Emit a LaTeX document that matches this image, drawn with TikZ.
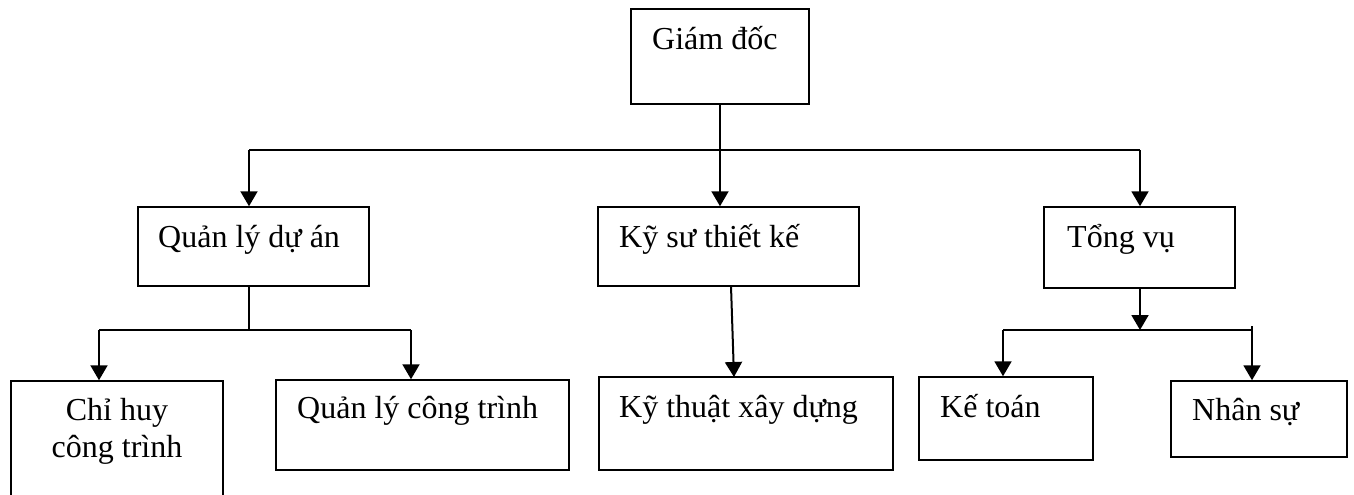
\documentclass[tikz,border=0pt]{standalone}
\usepackage{fontspec}
\setmainfont{Liberation Serif}
\usetikzlibrary{arrows.meta}
\tikzset{
  box/.style={draw=black, line width=1.5pt, rectangle, inner sep=0pt},
  lbl/.style={anchor=base west, inner sep=0pt, font=\fontsize{32}{37}\selectfont},
  conn/.style={line width=2pt, draw=black},
  arr/.style={conn, -{Triangle[width=17pt,length=15pt]}}
}
\begin{document}
\begin{tikzpicture}[x=1pt,y=-1pt]
\useasboundingbox (0,0) rectangle (1354,495);
\clip (0,0) rectangle (1354,495);
% boxes
\node[box, minimum width=178pt, minimum height=95pt] (gd) at (720,56.5) {};
\node[box, minimum width=231pt, minimum height=79pt] (qlda) at (253.5,246.5) {};
\node[box, minimum width=261pt, minimum height=79pt] (ks) at (728.5,246.5) {};
\node[box, minimum width=191pt, minimum height=81pt] (tv) at (1139.5,247.5) {};
\node[box, minimum width=212pt, minimum height=139pt] (ch) at (117,450.5) {};
\node[box, minimum width=293pt, minimum height=90pt] (qlct) at (422.5,425) {};
\node[box, minimum width=294pt, minimum height=93pt] (ktxd) at (746,423.5) {};
\node[box, minimum width=174pt, minimum height=83pt] (kt) at (1006,418.5) {};
\node[box, minimum width=176pt, minimum height=76pt] (ns) at (1259,419) {};
% labels
\node[lbl] (tgd) at (652,50) {Giám đốc};
\node[lbl] (tqlda) at (158,247) {Quản lý dự án};
\node[lbl] (tks) at (619,247) {Kỹ sư thiết kế};
\node[lbl] (ttv) at (1067,247) {Tổng vụ};
\node[anchor=base, inner sep=0pt, font=\fontsize{32}{37}\selectfont, align=center] (tch) at (117,457) {Chỉ huy\\công trình};
\node[lbl] (tqlct) at (297,418) {Quản lý công trình};
\node[lbl] (tktxd) at (619,417) {Kỹ thuật xây dựng};
\node[lbl] (tkt) at (940,417) {Kế toán};
\node[lbl] (tns) at (1192,420) {Nhân sự};
% junction coordinates
\coordinate (jtop) at (720,150);
\coordinate (jL) at (249,150);
\coordinate (jR) at (1140,150);
\coordinate (jq) at (249,330);
\coordinate (jqL) at (99,330);
\coordinate (jqR) at (411,330);
\coordinate (jt) at (1140,330);
\coordinate (jtL) at (1003,330);
\coordinate (jtR) at (1252,330);
\coordinate (ksout) at (731,286);
\coordinate (ktin) at (734,377);
% connectors
\draw[conn] (gd.south) -- (jtop);
\draw[conn] (jL) -- (jR);
\draw[arr] (jL) -- (jL |- qlda.north);
\draw[arr] (jtop) -- (jtop |- ks.north);
\draw[arr] (jR) -- (jR |- tv.north);
\draw[conn] (jq |- qlda.south) -- (jq);
\draw[conn] (jqL) -- (jqR);
\draw[arr] (jqL) -- (jqL |- ch.north);
\draw[arr] (jqR) -- (jqR |- qlct.north);
\draw[arr] (ksout) -- (ktin);
\draw[arr] (jt |- tv.south) -- (jt);
\draw[conn] (jtL) -- (jtR) -- ++(0,-4);
\draw[arr] (jtL) -- (jtL |- kt.north);
\draw[arr] (jtR) -- (jtR |- ns.north);
\end{tikzpicture}
\end{document}
